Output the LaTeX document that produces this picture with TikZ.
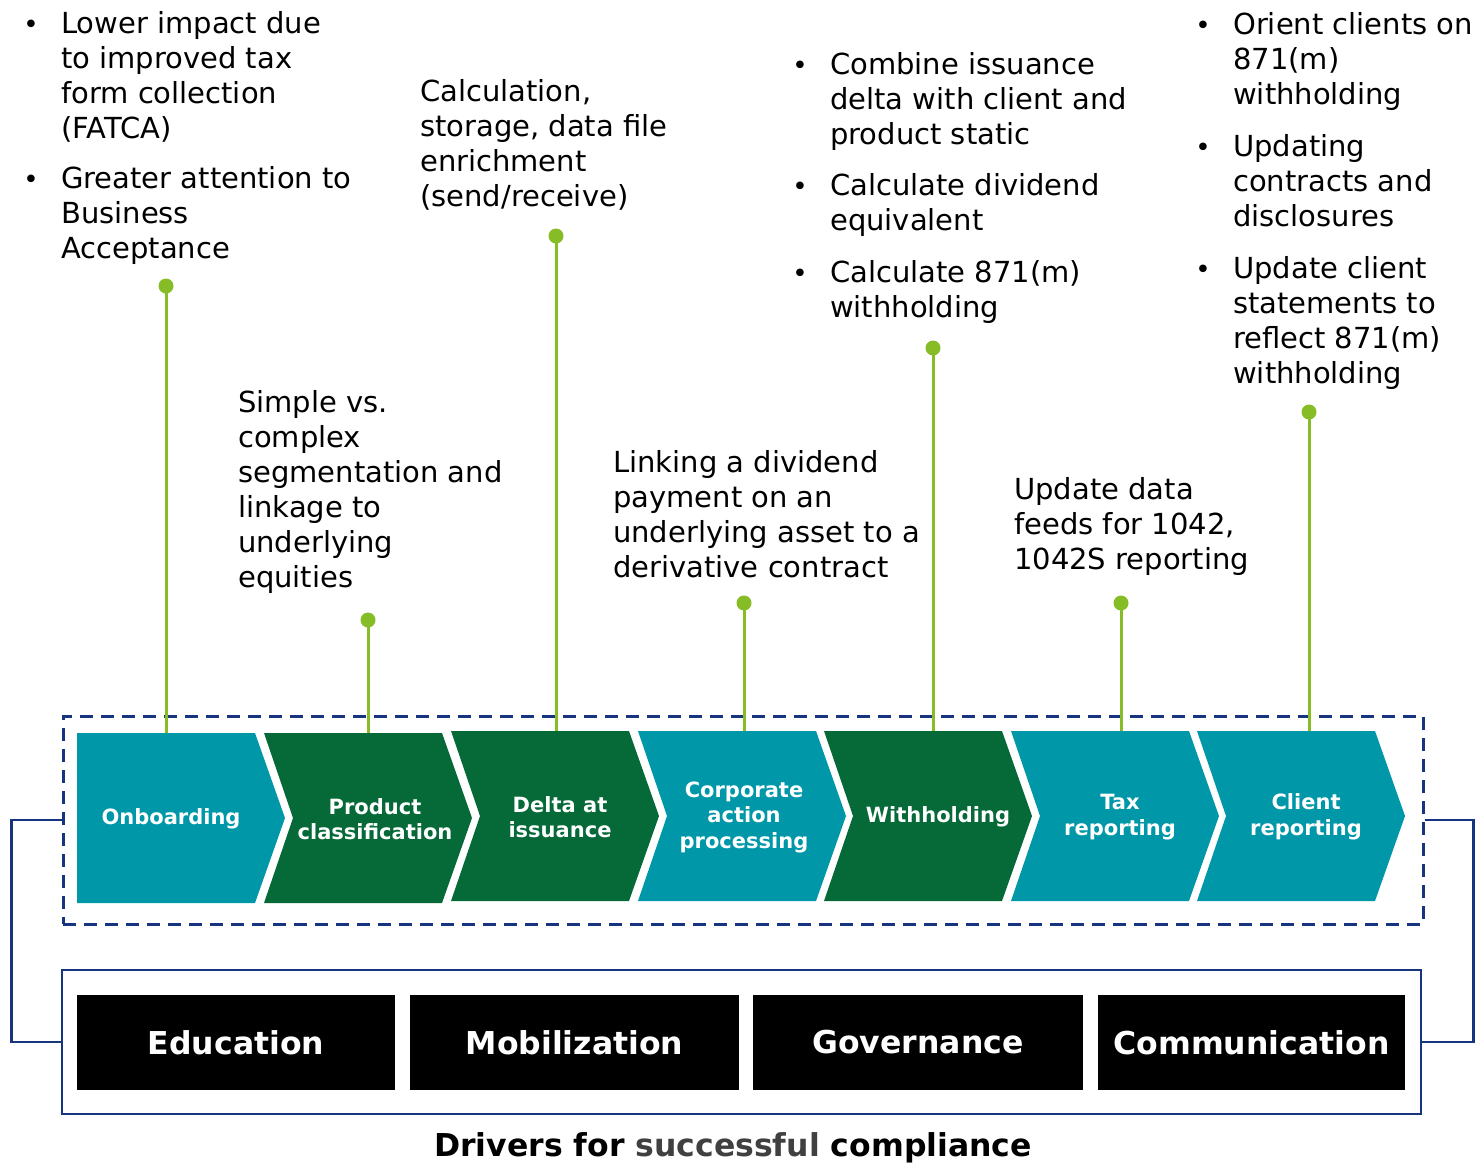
\documentclass[tikz,border=0pt]{standalone}
\usepackage{fontspec}
\setmainfont{DejaVu Sans}
\definecolor{teal}{HTML}{0097A9}
\definecolor{dgreen}{HTML}{066A38}
\definecolor{lime}{HTML}{86BC25}
\definecolor{navy}{HTML}{17347E}
\definecolor{capgray}{HTML}{404040}
\tikzset{
  ann/.style={anchor=base west, inner sep=0pt, align=left, font=\fontsize{29}{35}\selectfont, yshift=2pt},
  bul/.style={anchor=base, inner sep=0pt, font=\fontsize{26}{26}\selectfont, yshift=2pt},
  stem/.style={draw=lime, line width=3pt},
  dot/.style={circle, fill=lime, inner sep=0pt, minimum size=15pt},
  chevlabel/.style={text=white, font=\bfseries\fontsize{21}{25.5}\selectfont, align=center, inner sep=0pt},
  pillar/.style={fill=black, text=white, font=\bfseries\fontsize{31.5}{36}\selectfont, inner sep=0pt, minimum height=95pt},
  conn/.style={draw=navy, line width=2.8pt},
}
\begin{document}
\begin{tikzpicture}[x=1pt,y=-1pt]
\useasboundingbox (0,0) rectangle (1479,1162);

% process frame
\node[draw=navy, line width=3pt, dash pattern=on 13pt off 8pt, minimum width=1360pt, minimum height=208pt, inner sep=0pt] (proc) at (743,820) {};

% chevrons
\fill[teal] (77,733) -- (255,733) -- (285,818) -- (255,903) -- (77,903) -- cycle;
\fill[dgreen] (264,733) -- (442,733) -- (472,818) -- (442,903) -- (264,903) -- (293,818) -- cycle;
\fill[dgreen] (451,731) -- (629,731) -- (659,816) -- (629,901) -- (451,901) -- (480,816) -- cycle;
\fill[teal] (638,731) -- (816,731) -- (846,816) -- (816,901) -- (638,901) -- (667,816) -- cycle;
\fill[dgreen] (824,731) -- (1002,731) -- (1032,816) -- (1002,901) -- (824,901) -- (853,816) -- cycle;
\fill[teal] (1011,731) -- (1189,731) -- (1219,816) -- (1189,901) -- (1011,901) -- (1040,816) -- cycle;
\fill[teal] (1197,731) -- (1375,731) -- (1405,816) -- (1375,901) -- (1197,901) -- (1226,816) -- cycle;

\node[chevlabel] (l1) at (171,819) {Onboarding};
\node[chevlabel] (l2) at (375,819) {Product\\classification};
\node[chevlabel] (l3) at (560,817) {Delta at\\issuance};
\node[chevlabel] (l4) at (744,817) {Corporate\\action\\processing};
\node[chevlabel] (l5) at (938,817) {Withholding};
\node[chevlabel] (l6) at (1120,817) {Tax\\reporting};
\node[chevlabel] (l7) at (1306,817) {Client\\reporting};

% stems
\coordinate (c1) at (166,733);
\coordinate (c2) at (368,733);
\coordinate (c3) at (556,731);
\coordinate (c4) at (744,731);
\coordinate (c5) at (933,731);
\coordinate (c6) at (1121,731);
\coordinate (c7) at (1309,731);
\node[dot] (d1) at (166,286) {};
\node[dot] (d2) at (368,620) {};
\node[dot] (d3) at (556,236) {};
\node[dot] (d4) at (744,603) {};
\node[dot] (d5) at (933,348) {};
\node[dot] (d6) at (1121,603) {};
\node[dot] (d7) at (1309,412) {};
\foreach \i in {1,...,7} { \draw[stem] (d\i.center) -- (c\i); }

% annotations (anchored at the baseline of their last line)
\node[bul] (b1) at (31,35) {•};
\node[ann] (a1) at (61,140) {Lower impact due\\to improved tax\\form collection\\(FATCA)};
\node[bul] (b2) at (31,190) {•};
\node[ann] (a2) at (61,260) {Greater attention to\\Business\\Acceptance};

\node[ann] (a3) at (420,208) {Calculation,\\storage, data file\\enrichment\\(send/receive)};
\node[ann] (a4) at (238,589) {Simple vs.\\complex\\segmentation and\\linkage to\\underlying\\equities};
\node[ann] (a5) at (613,579) {Linking a dividend\\payment on an\\underlying asset to a\\derivative contract};

\node[bul] (b3) at (800,76) {•};
\node[ann] (a6) at (830,146) {Combine issuance\\delta with client and\\product static};
\node[bul] (b4) at (800,197) {•};
\node[ann] (a7) at (830,232) {Calculate dividend\\equivalent};
\node[bul] (b5) at (800,284) {•};
\node[ann] (a8) at (830,319) {Calculate 871(m)\\withholding};

\node[ann] (a9) at (1014,571) {Update data\\feeds for 1042,\\1042S reporting};

\node[bul] (b6) at (1203,36) {•};
\node[ann] (a10) at (1233,106) {Orient clients on\\871(m)\\withholding};
\node[bul] (b7) at (1203,158) {•};
\node[ann] (a11) at (1233,228) {Updating\\contracts and\\disclosures};
\node[bul] (b8) at (1203,280) {•};
\node[ann] (a12) at (1233,385) {Update client\\statements to\\reflect 871(m)\\withholding};

% drivers
\node[draw=navy, line width=2.8pt, minimum width=1359pt, minimum height=144pt, inner sep=0pt] (drivers) at (741.5,1042) {};
\node[pillar, minimum width=318pt] (p1) at (236,1042.5) {Education};
\node[pillar, minimum width=329pt] (p2) at (574.5,1042.5) {Mobilization};
\node[pillar, minimum width=330pt] (p3) at (918,1042.5) {Governance};
\node[pillar, minimum width=307pt] (p4) at (1251.5,1042.5) {Communication};

\draw[conn] (proc.west) -- ++(-50,0) |- (drivers.west);
\draw[conn] (proc.east) -- ++(49,0) |- (drivers.east);

\node[anchor=base, inner sep=0pt, font=\bfseries\fontsize{31.5}{36}\selectfont] (caption) at (733,1156) {Drivers for \textcolor{capgray}{successful} compliance};
\end{tikzpicture}
\end{document}
